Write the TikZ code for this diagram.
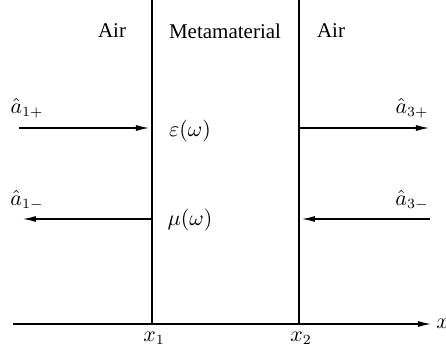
\documentclass[tikz,border=0pt]{standalone}
\usepackage{fontspec}
\setmainfont{Liberation Serif}
\usepackage{tikz}
\usetikzlibrary{arrows.meta, positioning}

\begin{document}
\begin{tikzpicture}[
    x=0.5pt, y=-0.5pt,
    wall/.style={line width=1.4pt},
    wave/.style={line width=0.9pt, -{Latex[length=7pt, width=3pt]}},
    lbl/.style={inner sep=0pt, font=\fontsize{10.5}{12}\selectfont},
]
    \useasboundingbox (0,0) rectangle (446,354);

    % walls and axis
    \coordinate (w1top) at (152,0);
    \coordinate (w1bot) at (152,324);
    \coordinate (w2top) at (299,0);
    \coordinate (w2bot) at (299,324);
    \coordinate (axL) at (13,324);
    \coordinate (axR) at (432,324);
    \draw[wall] (w1top) -- (w1bot);
    \draw[wall] (w2top) -- (w2bot);
    \draw[wave] (axL) -- (axR);

    \node[lbl, anchor=west] (xlab) at (436,324) {$x$};
    \node[lbl] (x1) at (154,338) {$x_1$};
    \node[lbl] (x2) at (301,338) {$x_2$};

    % region labels
    \node[lbl] (airL) at (112,31) {Air};
    \node[lbl] (meta) at (225,31) {Metamaterial};
    \node[lbl] (airR) at (331,31) {Air};
    \node[lbl] (eps) at (190,131) {$\varepsilon(\omega)$};
    \node[lbl] (mu) at (190,220) {$\mu(\omega)$};

    % incoming and outgoing waves
    \coordinate (in1) at (19,128);
    \coordinate (w1a) at (150,128);
    \coordinate (w1b) at (151,219);
    \coordinate (out1) at (22,219);
    \coordinate (w2a) at (300,128);
    \coordinate (out3) at (430,128);
    \coordinate (in3) at (430,219);
    \coordinate (w2b) at (301,219);
    \draw[wave] (in1) -- (w1a);
    \draw[wave] (w1b) -- (out1);
    \draw[wave] (w2a) -- (out3);
    \draw[wave] (in3) -- (w2b);

    \node[lbl] (a1p) at (27,108) {$\hat{a}_{1+}$};
    \node[lbl] (a1m) at (27,200) {$\hat{a}_{1-}$};
    \node[lbl] (a3p) at (412,108) {$\hat{a}_{3+}$};
    \node[lbl] (a3m) at (412,200) {$\hat{a}_{3-}$};
\end{tikzpicture}
\end{document}
